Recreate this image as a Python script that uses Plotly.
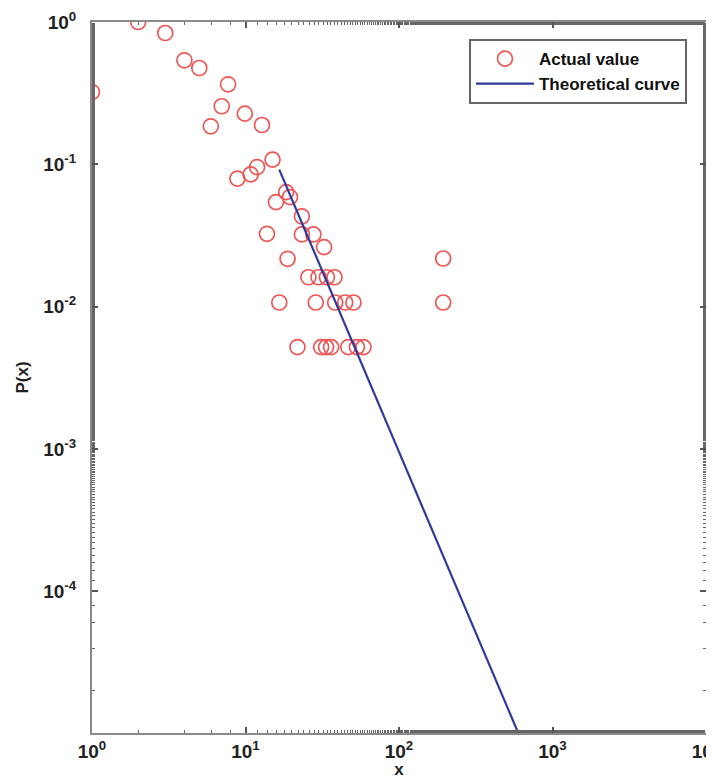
import plotly.graph_objects as go

# Actual value
actual_x = [1, 2, 3, 4, 5, 5.94, 7.0, 7.7, 8.85, 9.9, 10.8, 11.9, 12.8, 13.8, 15.0,
            15.8, 16.6, 18.4, 18.8, 19.5, 21.8, 23.3, 23.3, 25.7, 27.7, 28.7, 29.9,
            31.1, 32.5, 33.5, 33.9, 36.1, 38.0, 38.4, 44.6, 46.7, 50.5, 53.2, 58.7,
            194, 194]
actual_y = [0.322, 1.0, 0.837, 0.538, 0.475, 0.185, 0.256, 0.365, 0.0794, 0.227, 0.085,
            0.0957, 0.189, 0.0325, 0.108, 0.0543, 0.0107, 0.0638, 0.0217, 0.0589,
            0.0052, 0.0431, 0.0322, 0.0161, 0.0322, 0.0107, 0.0161, 0.0052, 0.0262,
            0.0052, 0.0161, 0.0052, 0.0161, 0.0107, 0.0107, 0.0052, 0.0107, 0.0052,
            0.0052, 0.0218, 0.0107]

# Theoretical curve (straight power-law line in log-log)
theory_x = [16.6, 601]
theory_y = [0.0918, 1.0e-5]

# Tick labels
x_tickvals = [1, 10, 100, 1000, 10000]
x_ticktext = ["10<sup>0</sup>", "10<sup>1</sup>", "10<sup>2</sup>", "10<sup>3</sup>", "10<sup>4</sup>"]
y_tickvals = [1, 0.1, 0.01, 0.001, 0.0001]
y_ticktext = ["10<sup>0</sup>", "10<sup>-1</sup>", "10<sup>-2</sup>", "10<sup>-3</sup>", "10<sup>-4</sup>"]

tick_font = dict(family="Liberation Sans, Arial", size=19, color="#222222", weight="bold")
title_font = dict(family="Liberation Sans, Arial", size=17, color="#222222", weight="bold")

fig = go.Figure()
fig.add_trace(go.Scatter(
    x=actual_x, y=actual_y, mode="markers", name="Actual value",
    marker=dict(symbol="circle-open", size=15, color="rgb(240,85,85)",
                line=dict(width=1.7, color="rgb(240,85,85)")),
))
fig.add_trace(go.Scatter(
    x=theory_x, y=theory_y, mode="lines", name="Theoretical curve",
    line=dict(color="#2f3a9c", width=2.2),
))

axis_common = dict(
    type="log", showgrid=False, zeroline=False, automargin=False,
    showline=True, linecolor="#8a8a8a", linewidth=2,
    mirror="allticks", ticks="inside", ticklen=6, tickwidth=1.5, tickcolor="#555555",
    tickfont=tick_font, ticklabeloverflow="allow",
    minor=dict(ticks="inside", ticklen=3, tickwidth=1.2, tickcolor="#666666",
               showgrid=False),
)

fig.update_xaxes(**axis_common, range=[0, 4],
                 tickmode="array", tickvals=x_tickvals, ticktext=x_ticktext,
                 title=dict(text="x", font=title_font, standoff=0))
fig.update_yaxes(**axis_common, range=[-4.995, 0],
                 tickmode="array", tickvals=y_tickvals, ticktext=y_ticktext,
                 ticklabelstandoff=10,
                 title=dict(text="P(x)", font=title_font, standoff=10))

# The page body has an 8px default margin, so the figure is sized to fit the window
fig.update_layout(
    width=706, height=771,
    margin=dict(l=84, r=8, t=14, b=46),
    paper_bgcolor="white", plot_bgcolor="white",
    showlegend=True,
    legend=dict(
        x=0.969, y=0.976, xanchor="right", yanchor="top",
        bgcolor="white", bordercolor="#666666", borderwidth=2,
        font=dict(family="Liberation Sans, Arial", size=17, color="#111111", weight="bold"),
        tracegroupgap=0, itemwidth=58,
    ),
)

fig.write_html("out.html")
